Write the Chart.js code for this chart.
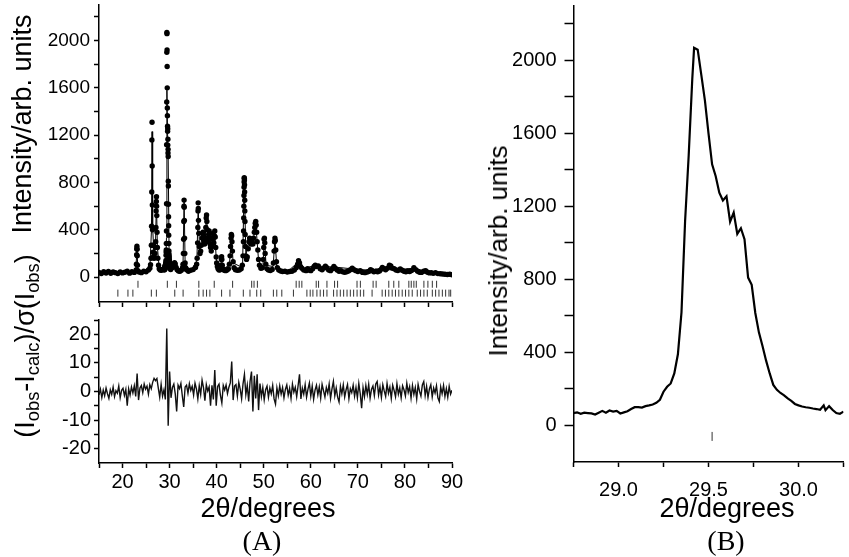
<!DOCTYPE html>
<html>
<head>
<meta charset="utf-8">
<script src="https://cdn.jsdelivr.net/npm/chart.js@4.4.1/dist/chart.umd.min.js"></script>
<style>
  html, body { margin: 0; padding: 0; background: #fff; }
  #page { position: relative; width: 849px; height: 557px; overflow: hidden; font-family: "Liberation Sans", Arial, sans-serif; color: #000; }
  canvas { position: absolute; }
  .lbl { position: absolute; white-space: nowrap; line-height: 1; }
  .rot { transform: translate(-50%, -50%) rotate(-90deg); }
  .ctr { transform: translate(-50%, -50%); }
  .serif { font-family: "Liberation Serif", "Times New Roman", serif; }
  sub { font-size: 68%; vertical-align: -0.3em; line-height: 0; }
</style>
</head>
<body>
<div id="page">
  <canvas id="patternChart" width="470" height="312" style="left:0;top:0"></canvas>
  <canvas id="residualChart" width="470" height="245" style="left:0;top:312px"></canvas>
  <canvas id="zoomChart" width="379" height="557" style="left:470px;top:0"></canvas>

  <div class="lbl rot" style="left:22px;top:124px;font-size:27px">Intensity/arb. units</div>
  <div class="lbl rot" style="left:25px;top:346px;font-size:27px">(I<sub>obs</sub>-I<sub>calc</sub>)/σ(I<sub>obs</sub>)</div>
  <div class="lbl ctr" style="left:268px;top:508px;font-size:27px">2θ/degrees</div>
  <div class="lbl ctr serif" style="left:262px;top:541px;font-size:28px">(A)</div>

  <div class="lbl rot" style="left:498px;top:251px;font-size:26px">Intensity/arb. units</div>
  <div class="lbl ctr" style="left:727px;top:508px;font-size:27px">2θ/degrees</div>
  <div class="lbl ctr serif" style="left:726px;top:541px;font-size:28px">(B)</div>
</div>

<script>
// ---- observed pattern (dots in A, line in B) ----
const obsTwoTheta = [
  15.0,15.5,16.0,16.5,17.0,17.5,18.0,18.5,19.0,19.5,20.0,20.5,21.0,21.5,22.0,22.5,
  22.9,22.95,23.0,23.03,23.06,23.09,23.12,23.17,23.25,
  23.5,24.0,24.5,25.0,25.5,
  25.8,25.95,26.05,26.12,26.17,26.21,26.24,26.27,26.3,26.33,26.37,26.42,26.5,26.6,26.7,26.8,
  26.9,26.98,27.05,27.1,27.14,27.18,27.21,27.24,27.28,27.33,27.4,27.5,27.65,27.8,28.0,
  28.25,28.5,
  28.75,28.77,28.79,28.81,28.83,28.85,28.87,28.89,28.91,28.93,
  28.95,28.97,28.99,29.01,29.03,29.05,29.07,29.09,29.11,29.13,
  29.15,29.17,29.19,29.21,29.23,29.25,29.27,29.29,29.31,29.33,
  29.35,29.37,29.39,29.41,29.42,29.44,29.46,29.48,29.50,29.52,
  29.54,29.56,29.58,29.60,29.62,29.64,29.66,29.68,29.70,29.72,
  29.74,29.76,29.78,29.80,29.82,29.84,29.86,29.88,29.90,29.92,
  29.94,29.96,29.98,30.00,30.02,30.04,30.06,30.08,30.10,30.12,
  30.14,30.15,30.17,30.19,30.21,30.23,30.25,
  30.5,30.75,30.9,31.05,31.2,31.4,31.6,31.9,32.2,32.5,32.75,
  32.85,32.93,32.98,33.02,33.05,33.08,33.11,33.14,33.18,33.23,33.3,33.4,
  33.6,34.0,34.5,35.0,35.5,35.75,
  35.85,35.95,36.0,36.04,36.07,36.1,36.14,36.2,36.3,36.45,
  36.6,36.75,36.9,37.0,37.1,37.2,37.3,37.45,37.6,37.7,
  37.78,37.85,37.92,38.0,38.1,38.2,38.3,38.4,38.5,38.6,
  38.7,38.85,39.0,39.1,39.2,39.3,39.4,39.5,39.6,39.7,
  39.8,39.9,40.0,40.15,40.3,40.5,
  40.75,40.9,41.0,41.05,41.1,41.2,41.35,41.6,41.9,42.2,
  42.5,42.7,42.85,42.95,43.05,43.12,43.18,43.25,43.35,43.5,
  43.7,44.0,44.4,44.8,45.2,
  45.45,45.6,45.68,45.72,45.75,45.78,45.8,45.82,45.84,45.86,
  45.88,45.9,45.92,45.94,45.96,45.98,46.01,46.05,46.1,
  46.2,46.35,46.5,46.7,46.85,47.0,47.15,47.3,
  47.45,47.55,47.7,47.85,48.0,48.1,48.2,48.3,48.4,48.5,
  48.6,48.75,48.9,49.1,49.4,49.7,
  49.9,50.0,50.08,50.15,50.22,50.3,50.45,50.7,51.0,51.4,
  51.8,52.05,52.2,52.3,52.38,52.45,52.55,52.7,52.9,53.2,
  53.6,54.0,54.5,55.0,55.5,
  56.0,56.5,56.9,57.2,57.4,57.6,57.8,58.1,58.5,59.0,
  59.3,59.6,60.0,60.4,60.7,60.95,61.2,61.6,62.0,62.4,
  62.8,63.1,63.4,63.8,64.2,64.6,64.9,65.2,65.6,66.0,
  66.4,66.8,67.2,67.6,68.0,68.4,68.8,69.2,69.6,70.0,
  70.5,71.0,71.5,72.0,72.4,72.7,73.0,73.4,73.8,74.2,
  74.6,75.0,75.2,75.5,75.9,76.3,76.7,77.0,77.3,77.7,
  78.1,78.5,79.0,79.4,79.8,80.2,80.6,81.0,81.4,81.9,
  82.3,82.7,83.1,83.5,84.0,84.4,84.8,85.2,85.6,86.0,
  86.5,87.0,87.5,88.0,88.5,89.0,89.5,90.0
];
const obsIntensity = [
  40,30,46,35,48,33,44,38,30,45,36,42,50,34,46,40,
  60,110,190,240,262,235,180,100,55,
  44,38,50,46,60,
  75,105,160,270,430,720,1160,1309,940,610,400,270,210,175,160,165,
  200,250,300,420,560,640,680,600,520,380,250,160,100,70,60,
  58,64,
  68,72,64,70,68,66,60,70,80,70,
  82,76,80,66,72,78,90,100,100,98,
  106,110,115,124,141,185,212,230,285,390,
  620,1120,1480,1900,2068,2058,1920,1780,1600,1430,
  1365,1275,1232,1255,1116,1166,1049,1080,1020,810,
  770,616,510,435,355,285,222,195,178,165,
  148,135,118,110,104,100,97,93,90,86,
  110,84,106,85,68,64,76,
  80,92,108,122,112,82,62,52,50,58,80,
  110,200,320,470,600,651,590,480,330,200,120,80,
  62,50,58,64,82,110,
  160,290,420,560,628,580,480,370,260,200,
  220,270,330,370,380,350,300,280,330,420,
  500,525,470,400,330,300,360,390,340,280,
  250,220,260,320,370,330,290,350,390,340,
  250,170,120,90,70,60,
  62,100,150,172,150,100,70,58,55,60,
  70,110,180,260,330,360,350,300,220,130,
  80,62,58,60,70,
  100,180,300,390,500,600,690,760,805,840,
  835,820,780,720,650,560,470,360,260,
  180,150,170,240,300,330,310,280,
  320,300,280,330,380,420,455,470,440,380,
  300,230,150,100,75,80,
  150,250,320,330,290,200,110,70,60,56,
  65,120,220,300,330,310,230,130,80,60,
  52,48,50,44,48,
  50,60,80,110,138,120,90,75,60,55,
  72,60,55,70,90,102,90,95,70,62,
  78,92,80,60,55,72,90,75,60,50,
  55,45,42,46,52,62,75,62,55,48,
  55,40,38,44,50,62,56,45,50,46,
  52,68,82,72,62,76,102,94,76,72,
  60,56,70,58,50,46,52,48,56,80,
  64,50,42,40,50,54,42,36,38,32,
  38,30,29,26,25,22,24,20
];

// ---- calculated profile (thin line in A) ----
const calcTwoTheta = [
  15,17,19,21,22.8,23.0,23.06,23.12,23.3,24.5,
  25.8,26.15,26.27,26.4,26.7,27.0,27.2,27.4,27.8,28.6,
  29.2,29.33,29.43,29.55,29.7,29.9,30.3,31.1,32.0,32.85,
  33.08,33.3,34.5,35.8,36.07,36.35,37.1,37.5,37.85,38.1,
  38.4,38.8,39.2,39.4,39.6,39.9,40.3,40.9,41.05,41.3,
  42.7,43.15,43.5,45.5,45.86,46.2,47.0,47.45,47.7,48.3,
  48.9,49.8,50.14,50.5,52.0,52.38,52.8,55.0,57.4,58.0,
  60.9,63.1,64.9,68.8,72.7,75.2,76.7,79.0,81.9,84.4,
  87.0,90.0
];
const calcIntensity = [
  40,40,40,41,50,190,250,180,50,45,
  70,400,1230,420,170,260,650,260,70,62,
  115,330,1580,1250,1000,170,80,110,52,100,
  665,110,55,140,600,240,360,300,520,340,
  380,240,360,290,380,160,70,90,165,70,
  100,355,120,80,830,190,320,310,290,460,
  140,75,330,100,90,325,70,45,130,70,
  98,88,86,70,58,78,95,65,75,50,
  32,22
];

// ---- reflection markers (two rows under the pattern) ----
const reflectionsRow1 = [
  23.28,29.52,31.45,36.21,39.48,43.39,47.44,47.94,48.65,56.89,57.53,58.1,
  61.15,61.65,63.43,65.05,65.69,69.82,70.53,73.24,73.88,76.57,77.63,78.7,
  80.83,81.34,81.9,82.41,84.03,84.88,85.82,86.73
];
const reflectionsRow2 = [
  19.01,21.15,22.2,26.12,27.19,31.1,32.87,36.21,37.13,37.85,38.56,41.05,
  42.82,45.66,47.08,48.51,49.36,52.05,52.77,53.84,56.31,59.17,59.87,60.45,
  61.3,62.0,62.71,63.43,64.84,65.56,66.27,66.98,67.7,68.4,69.1,69.83,
  70.53,71.24,73.02,75.16,75.86,76.57,77.29,77.99,78.7,79.42,80.13,80.83,
  81.55,82.62,83.32,84.03,84.75,85.82,86.52,87.23,87.95,88.65,89.36,89.72
];
const row1Level = -60;
const row2Level = -135;

// ---- (Iobs - Icalc)/sigma ----
const resTwoTheta = [
  15.0,15.3,15.6,15.9,16.2,16.5,16.8,17.1,17.4,17.7,
  18.0,18.3,18.6,18.9,19.2,19.5,19.8,20.1,20.4,20.7,
  21.0,21.3,21.6,21.9,22.2,22.5,22.8,23.1,23.4,23.7,
  24.0,24.3,24.6,24.9,25.2,25.5,25.8,26.1,26.4,26.7,
  27.0,27.3,27.6,27.9,28.2,28.5,28.8,29.1,29.4,29.7,
  30.0,30.3,30.6,30.9,31.2,31.5,31.8,32.1,32.4,32.7,
  33.0,33.3,33.6,33.9,34.2,34.5,34.8,35.1,35.4,35.7,
  36.0,36.3,36.6,36.9,37.2,37.5,37.8,38.1,38.4,38.7,
  39.0,39.3,39.6,39.9,40.2,40.5,40.8,41.1,41.4,41.7,
  42.0,42.3,42.6,42.9,43.2,43.5,43.8,44.1,44.4,44.7,
  45.0,45.3,45.6,45.9,46.2,46.5,46.8,47.1,47.4,47.7,
  48.0,48.3,48.6,48.9,49.2,49.5,49.8,50.1,50.4,50.7,
  51.0,51.3,51.6,51.9,52.2,52.5,52.8,53.1,53.4,53.7,
  54.0,54.3,54.6,54.9,55.2,55.5,55.8,56.1,56.4,56.7,
  57.0,57.3,57.6,57.9,58.2,58.5,58.8,59.1,59.4,59.7,
  60.0,60.3,60.6,60.9,61.2,61.5,61.8,62.1,62.4,62.7,
  63.0,63.3,63.6,63.9,64.2,64.5,64.8,65.1,65.4,65.7,
  66.0,66.3,66.6,66.9,67.2,67.5,67.8,68.1,68.4,68.7,
  69.0,69.3,69.6,69.9,70.2,70.5,70.8,71.1,71.4,71.7,
  72.0,72.3,72.6,72.9,73.2,73.5,73.8,74.1,74.4,74.7,
  75.0,75.3,75.6,75.9,76.2,76.5,76.8,77.1,77.4,77.7,
  78.0,78.3,78.6,78.9,79.2,79.5,79.8,80.1,80.4,80.7,
  81.0,81.3,81.6,81.9,82.2,82.5,82.8,83.1,83.4,83.7,
  84.0,84.3,84.6,84.9,85.2,85.5,85.8,86.1,86.4,86.7,
  87.0,87.3,87.6,87.9,88.2,88.5,88.8,89.1,89.4,89.7,90.0
];
const resValues = [
  -1.2,0.8,-2.1,0.5,-1.5,1.2,-0.8,-2.4,0.6,-1.0,
  1.5,-1.8,0.3,-0.6,1.9,-2.2,0.4,1.1,-1.4,0.7,
  -5.0,0.9,-1.3,1.6,-0.5,2.0,-1.7,6.3,-3.0,1.2,
  2.1,-0.4,2.6,0.8,1.9,-0.9,2.4,1.0,3.2,4.6,
  3.8,4.5,1.2,-2.0,2.5,-1.6,0.6,-2.8,22.0,-12.0,
  7.0,-2.2,1.4,2.6,-0.8,-7.0,2.2,1.0,2.8,-1.5,
  -5.4,1.6,2.2,-0.6,2.7,0.4,1.8,-1.2,2.9,0.9,
  -2.6,2.0,-1.0,4.0,1.4,-3.2,2.4,0.2,1.6,-5.0,
  2.2,-2.8,7.5,-5.0,1.8,2.6,-1.4,-4.0,2.1,0.5,
  2.3,-0.7,1.5,3.0,10.5,-3.0,1.9,2.4,-1.6,3.2,
  0.8,-2.5,2.7,6.0,-1.1,2.2,-3.5,3.6,7.0,-7.0,
  5.5,-2.4,6.0,-6.5,2.8,-1.8,1.4,-2.9,0.6,1.9,
  -2.0,1.2,-0.8,2.1,-2.6,-4.4,1.3,-1.5,2.0,-0.9,
  1.4,-2.2,0.7,2.3,-1.3,1.1,-2.4,2.6,-0.2,1.5,
  -1.8,2.0,6.0,-2.6,1.2,-0.9,2.4,-2.0,0.8,3.0,
  -1.6,1.9,-2.7,0.5,2.2,-1.2,1.6,-2.3,2.5,0.3,
  -1.9,1.4,-0.6,2.6,-2.4,0.9,3.5,-1.5,1.2,-2.0,
  -3.7,1.8,-0.8,2.3,-1.9,0.6,2.4,-2.5,1.0,-0.4,
  2.2,-1.6,1.4,-2.2,2.8,-0.7,-5.8,1.3,-1.8,2.1,
  -1.0,2.5,-2.3,0.8,1.9,-1.4,2.6,3.5,-1.2,1.6,
  -2.1,2.4,0.2,-1.7,2.8,-0.6,1.5,-2.4,2.2,0.4,
  -1.8,2.7,-0.9,1.3,-2.2,2.0,0.6,-1.5,2.9,-0.3,
  1.7,-2.3,2.1,-1.0,1.4,-2.6,2.5,0.1,-1.6,2.3,
  3.5,-1.4,1.8,-2.1,0.9,2.4,-1.9,1.2,-0.5,2.0,
  -2.2,-3.5,1.6,-0.8,2.1,-1.7,1.0,-2.0,1.8,-0.9,0.4
];

// ---- axis ticks / labels ----
const twoThetaTicks = [15,20,25,30,35,40,45,50,55,60,65,70,75,80,85,90];
const twoThetaLabels = ['20','30','40','50','60','70','80','90'];
const intensityTicks = [0,200,400,600,800,1000,1200,1400,1600,1800,2000,2200];
const intensityLabels = ['0','400','800','1200','1600','2000'];
const residualTicks = [-20,-15,-10,-5,0,5,10,15,20,25];
const residualLabels = ['-20','-10','0','10','20'];
const zoomTicks = [28.75,29.0,29.25,29.5,29.75,30.0,30.25];
const zoomLabels = ['29.0','29.5','30.0'];

const FONT = '"Liberation Sans", Arial, sans-serif';
Chart.defaults.font.family = FONT;
Chart.defaults.color = '#000';

const pts = (xs, ys) => xs.map((x, i) => ({ x: x, y: ys[i] }));
const flat = (xs, level) => xs.map(x => ({ x: x, y: level }));

// axis helper: fixed box size so the plot area lands where it should
function axis(opts) {
  const s = {
    type: 'linear',
    min: opts.min,
    max: opts.max,
    afterBuildTicks: (sc) => { sc.ticks = opts.ticks.map(v => ({ value: v })); },
    ticks: {
      display: opts.labels !== null,
      autoSkip: false,
      maxRotation: 0,
      padding: opts.pad || 3,
      font: { size: opts.fontSize || 20 },
      color: '#000',
      callback: (v) => {
        const t = opts.fmt ? opts.fmt(v) : String(v);
        return opts.labels && opts.labels.includes(t) ? t : '';
      }
    },
    grid: { drawOnChartArea: false, drawTicks: true, tickLength: opts.tick || 5, tickWidth: 1.5, tickColor: '#000' },
    border: { display: true, color: '#000', width: 1.5 }
  };
  if (opts.width !== undefined) {
    s.afterFit = (sc) => { sc.width = opts.width; sc.paddingTop = 0; sc.paddingBottom = 0; };
  } else {
    s.afterFit = (sc) => { sc.height = opts.height; sc.paddingLeft = 0; sc.paddingRight = 0; };
  }
  return s;
}

const common = {
  responsive: false,
  animation: false,
  devicePixelRatio: 1,
  events: [],
  plugins: { legend: { display: false }, tooltip: { enabled: false } }
};

const markerStyle = (level, r) => ({
  data: level,
  showLine: false,
  pointStyle: 'line',
  rotation: 90,
  pointRadius: r,
  borderColor: '#333',
  borderWidth: 1
});

// (A) top: observed dots, calculated line, reflection markers
new Chart(document.getElementById('patternChart'), {
  type: 'scatter',
  data: {
    datasets: [
      { data: pts(calcTwoTheta, calcIntensity), showLine: true, borderColor: '#000', borderWidth: 1, pointRadius: 0 },
      { data: pts(obsTwoTheta, obsIntensity), showLine: false, pointRadius: 2.7, backgroundColor: '#000', borderColor: '#000', borderWidth: 0 },
      markerStyle(flat(reflectionsRow1, row1Level), 3.5),
      markerStyle(flat(reflectionsRow2, row2Level), 3.5)
    ]
  },
  options: Object.assign({}, common, {
    layout: { padding: { left: 0, top: 5, right: 18, bottom: 0 } },
    scales: {
      x: axis({ min: 15, max: 90, ticks: twoThetaTicks, labels: null, height: 10 }),
      y: axis({ min: -210, max: 2300, ticks: intensityTicks, labels: intensityLabels, width: 99, fontSize: 19, pad: 4 })
    }
  })
});

// (A) bottom: difference curve
new Chart(document.getElementById('residualChart'), {
  type: 'scatter',
  data: {
    datasets: [
      { data: pts(resTwoTheta, resValues), showLine: true, borderColor: '#111', borderWidth: 1.4, pointRadius: 0 }
    ]
  },
  options: Object.assign({}, common, {
    layout: { padding: { left: 0, top: 8, right: 18, bottom: 0 } },
    scales: {
      x: axis({ min: 15, max: 90, ticks: twoThetaTicks, labels: twoThetaLabels, height: 94, pad: 2 }),
      y: axis({ min: -25, max: 25, ticks: residualTicks, labels: residualLabels, width: 99, pad: 3 })
    }
  })
});

// (B) zoom on the strongest reflection
new Chart(document.getElementById('zoomChart'), {
  type: 'scatter',
  data: {
    datasets: [
      { data: pts(obsTwoTheta, obsIntensity), showLine: true, borderColor: '#000', borderWidth: 2.2, pointRadius: 0 },
      markerStyle(flat(reflectionsRow1, row1Level), 4.5)
    ]
  },
  options: Object.assign({}, common, {
    layout: { padding: { left: 0, top: 5, right: 1, bottom: 0 } },
    scales: {
      x: axis({ min: 28.75, max: 30.25, ticks: zoomTicks, labels: zoomLabels, fmt: v => v.toFixed(1), height: 95, pad: 11 }),
      y: axis({ min: -200, max: 2300, ticks: intensityTicks, labels: intensityLabels, width: 103.5, tick: 9, pad: 8 })
    }
  })
});
</script>
</body>
</html>
